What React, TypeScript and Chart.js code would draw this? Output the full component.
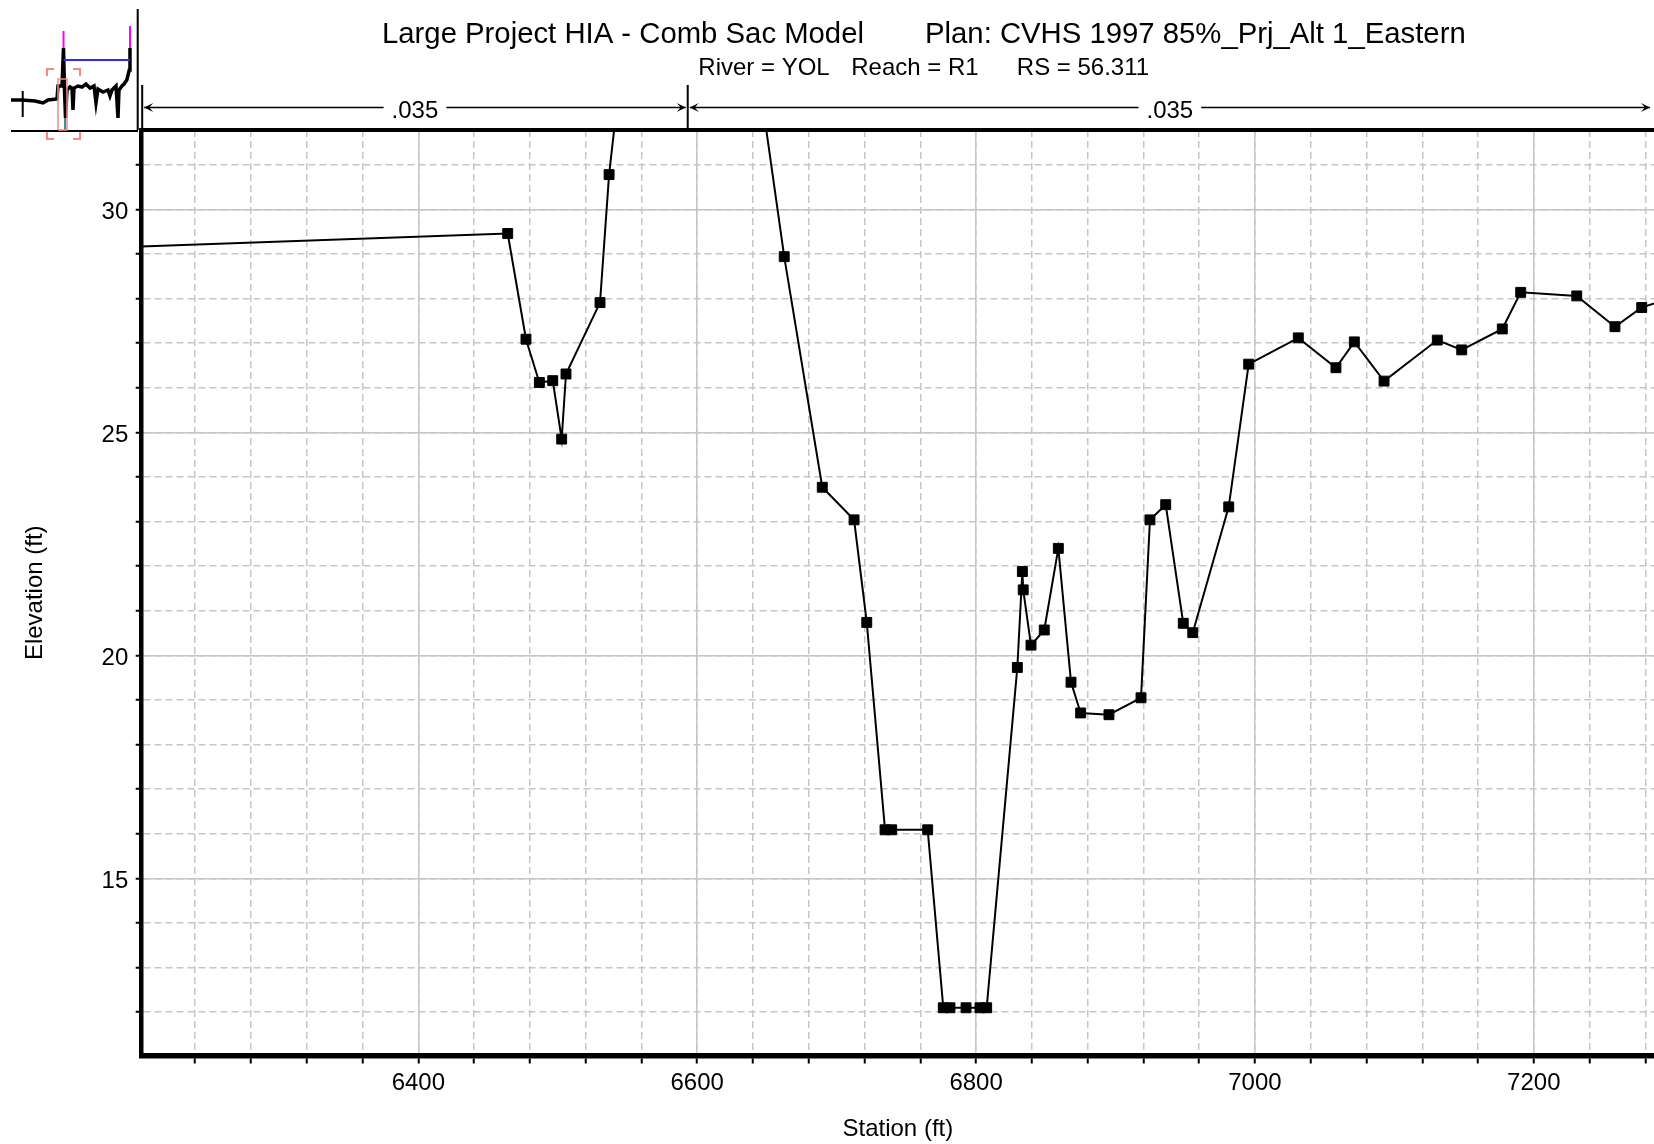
import React, { useEffect, useRef } from 'react';
import { Chart, registerables } from 'chart.js';

Chart.register(...registerables);

// ---------------- data ----------------
const STATION = [
  6150, 6464.1, 6477.2, 6486.8, 6496.4, 6502.8, 6505.9, 6530.3, 6536.8, 6552, 6635,
  6662.4, 6689.7, 6712.5, 6721.6, 6734.7, 6739.5, 6765.3, 6776.5, 6781.3, 6792.8,
  6802.8, 6807.6, 6829.6, 6833.2, 6833.8, 6839.4, 6848.9, 6859.0, 6868.1, 6875.0,
  6895.3, 6918.3, 6924.7, 6936.0, 6948.6, 6955.4, 6981.2, 6995.5, 7031.1, 7058.1,
  7071.3, 7092.6, 7130.8, 7148.3, 7177.4, 7190.6, 7230.8, 7258.2, 7277.4, 7310,
];
const ELEVATION = [
  29.11, 29.46, 27.09, 26.12, 26.16, 24.85, 26.31, 27.91, 30.78, 35.0, 35.0,
  28.94, 23.77, 23.04, 20.74, 16.09, 16.09, 16.09, 12.10, 12.10, 12.10,
  12.10, 12.10, 19.73, 21.88, 21.47, 20.23, 20.57, 22.40, 19.40, 18.71,
  18.67, 19.05, 23.04, 23.38, 20.72, 20.51, 23.33, 26.53, 27.12, 26.45,
  27.03, 26.15, 27.07, 26.85, 27.32, 28.14, 28.06, 27.37, 27.80, 28.13,
];
const BANK_STATIONS = [6593.2];
const MANNING_N = ['.035', '.035'];
const X_TICK_LABELS = [6400, 6600, 6800, 7000, 7200];
const Y_TICK_LABELS = [15, 20, 25, 30];
const X_MINOR_STEP = 40;
const Y_MINOR_STEP = 1;
const X_RANGE = [6201.6, 7286.2];
const Y_RANGE = [11.03, 31.78];

const TITLE_LEFT = 'Large Project HIA - Comb Sac Model';
const TITLE_RIGHT = 'Plan: CVHS 1997 85%_Prj_Alt 1_Eastern';
const SUBTITLE_PARTS = ['River = YOL', 'Reach = R1', 'RS = 56.311'];
const X_TITLE = 'Station (ft)';
const Y_TITLE = 'Elevation (ft)';

// overview (mini map) data
const MINI_STATION = [
  4860, 5224, 5652, 5916, 6081, 6378, 6411, 6543, 6593, 6626, 6659, 6708, 6807, 6873,
  6906, 6939, 7071, 7203, 7335, 7467, 7599, 7665, 7731, 7896, 8061, 8127, 8193, 8325,
  8391, 8424, 8523, 8589, 8682, 8764, 8787,
];
const MINI_ELEV = [
  22.52, 22.52, 22.06, 21.15, 22.52, 22.97, 28.91, 28.91, 46.28, 27.09, 14.29, 27.09,
  28.46, 28.0, 17.95, 28.0, 28.91, 28.46, 29.83, 28.0, 28.91, 21.15, 27.54, 26.17,
  27.09, 24.34, 27.09, 28.91, 14.29, 27.09, 28.91, 29.83, 31.66, 36.23, 46.28,
];
const MINI_LEVEE_STATIONS = [6593, 8787];
const MINI_LEVEE_BASE = [46.28, 46.28];
const MINI_LEVEE_TOP = [54.05, 56.33];
const MINI_WS = 40.8;
const MINI_END_MARK = { station: 5247, low: 14.75, high: 26.63 };
const MINI_TEAL = { station: 6642.5, low: 8.35, high: 28.46 };
const MINI_RECT = { x0: 6411.5, x1: 6708.5, y0: 8.81, y1: 32.11 };
const MINI_BRACKET = { x0: 6048.5, x1: 7137.5, y0: 4.69, y1: 36.68, dx: 231, dy: 3.2 };
const MINI_BASE = { x0: 4860, x1: 9051.5, y: 8.35 };
const MINI_X_RANGE = [4497.5, 9282.5];
const MINI_Y_RANGE = [3.78, 68.22];

// ---------------- layout / style ----------------
const FONT = '"Liberation Sans", Arial, Helvetica, sans-serif';
const W = 1654;
const H = 1144;
const GRID_COLOR = '#c6c6c6';

function stepTicks(min: number, max: number, step: number) {
  const out: number[] = [];
  for (let v = Math.ceil(min / step) * step; v <= max + 1e-9; v += step) out.push(Math.round(v * 1000) / 1000);
  return out;
}

const headerPlugin = {
  id: 'header',
  afterDraw(chart: any) {
    const ctx = chart.ctx as CanvasRenderingContext2D;
    const area = chart.chartArea;
    const xs = chart.scales.x;
    ctx.save();
    ctx.fillStyle = '#000';
    ctx.textBaseline = 'alphabetic';
    ctx.textAlign = 'left';
    ctx.font = `29.3px ${FONT}`;
    ctx.fillText(TITLE_LEFT, 382, 42.7);
    ctx.fillText(TITLE_RIGHT, 925, 42.7);
    ctx.font = `24px ${FONT}`;
    const subX = [698.3, 851.2, 1016.8];
    SUBTITLE_PARTS.forEach((t, i) => ctx.fillText(t, subX[i], 75));

    ctx.strokeStyle = '#000';
    // separator of overview panel
    ctx.lineWidth = 2;
    ctx.beginPath();
    ctx.moveTo(137.7, 9);
    ctx.lineTo(137.7, area.top);
    ctx.stroke();

    // Manning's n regions
    const bounds = [area.left + 0.5, ...BANK_STATIONS.map((s) => xs.getPixelForValue(s)), area.right - 2];
    const yL = 107.5;
    ctx.lineWidth = 2;
    for (let i = 0; i < bounds.length - 1; i++) {
      ctx.beginPath();
      ctx.moveTo(bounds[i], 85);
      ctx.lineTo(bounds[i], area.top);
      ctx.stroke();
    }
    ctx.font = `24px ${FONT}`;
    ctx.textAlign = 'center';
    const arrow = (tx: number, dir: number) => {
      ctx.beginPath();
      ctx.moveTo(tx, yL);
      ctx.lineTo(tx - dir * 9, yL - 4.5);
      ctx.lineTo(tx - dir * 5, yL);
      ctx.lineTo(tx - dir * 9, yL + 4.5);
      ctx.closePath();
      ctx.fill();
    };
    for (let i = 0; i < bounds.length - 1; i++) {
      const a = bounds[i] + 2;
      const b = bounds[i + 1] - 2;
      const mid = (bounds[i] + bounds[i + 1]) / 2;
      const label = MANNING_N[i];
      const gap = ctx.measureText(label).width / 2 + 8;
      ctx.lineWidth = 1.6;
      ctx.beginPath();
      ctx.moveTo(a, yL);
      ctx.lineTo(mid - gap, yL);
      ctx.moveTo(mid + gap, yL);
      ctx.lineTo(b, yL);
      ctx.stroke();
      arrow(a, -1);
      arrow(b, 1);
      ctx.fillText(label, mid, 118.3);
    }
    ctx.restore();
  },
};

export default function App() {
  const mainRef = useRef<HTMLCanvasElement>(null);
  const miniRef = useRef<HTMLCanvasElement>(null);

  useEffect(() => {
    const points = STATION.map((s, i) => ({ x: s, y: ELEVATION[i] }));
    const xMinor = stepTicks(X_RANGE[0], X_RANGE[1], X_MINOR_STEP);
    const yMinor = stepTicks(Y_RANGE[0], Y_RANGE[1], Y_MINOR_STEP);
    const tickFont = { family: FONT, size: 24 };
    const noPad = (s: any) => {
      s.paddingLeft = 0;
      s.paddingRight = 0;
      s.paddingTop = 0;
      s.paddingBottom = 0;
    };

    const main = new Chart(mainRef.current as HTMLCanvasElement, {
      type: 'scatter',
      data: {
        datasets: [
          {
            data: points,
            showLine: true,
            borderColor: '#000',
            borderWidth: 2,
            tension: 0,
            pointStyle: 'rect',
            pointRadius: 7,
            pointHoverRadius: 7,
            pointBackgroundColor: '#000',
            pointBorderColor: '#000',
            pointBorderWidth: 1,
          } as any,
        ],
      },
      options: {
        responsive: false,
        animation: false,
        devicePixelRatio: 1,
        events: [],
        layout: { autoPadding: false, padding: { top: 130, left: 0, right: 0, bottom: 0 } },
        plugins: { legend: { display: false }, tooltip: { enabled: false }, title: { display: false } },
        scales: {
          x: {
            type: 'linear',
            position: 'bottom',
            min: X_RANGE[0],
            max: X_RANGE[1],
            afterBuildTicks: (s: any) => {
              s.ticks = xMinor.map((v) => ({ value: v }));
            },
            afterFit: (s: any) => {
              s.height = 88.5;
              noPad(s);
            },
            ticks: {
              autoSkip: false,
              maxRotation: 0,
              padding: 5.4,
              color: '#000',
              font: tickFont,
              callback: (v: any) => (X_TICK_LABELS.includes(Number(v)) ? String(v) : ''),
            },
            grid: { color: GRID_COLOR, lineWidth: 1.5, tickColor: '#000', tickLength: 8, tickWidth: 2 },
            border: { display: true, color: '#000', width: 5.5, dash: [7, 4] },
            title: { display: true, text: X_TITLE, color: '#000', font: tickFont, padding: { top: 0, bottom: 0 } },
          },
          xTop: {
            type: 'linear',
            axis: 'x',
            position: 'top',
            min: X_RANGE[0],
            max: X_RANGE[1],
            afterBuildTicks: (s: any) => {
              s.ticks = X_TICK_LABELS.map((v) => ({ value: v }));
            },
            afterFit: (s: any) => {
              s.height = 0;
              noPad(s);
            },
            ticks: { display: false },
            grid: { color: GRID_COLOR, lineWidth: 1.5, drawTicks: false },
            border: { display: true, color: '#000', width: 4 },
          },
          y: {
            type: 'linear',
            position: 'left',
            min: Y_RANGE[0],
            max: Y_RANGE[1],
            afterBuildTicks: (s: any) => {
              s.ticks = yMinor.map((v) => ({ value: v }));
            },
            afterFit: (s: any) => {
              s.width = 141.7;
              noPad(s);
            },
            ticks: {
              autoSkip: false,
              padding: 7.4,
              labelOffset: 3,
              color: '#000',
              font: tickFont,
              callback: (v: any) => (Y_TICK_LABELS.includes(Number(v)) ? String(v) : ''),
            },
            grid: { color: GRID_COLOR, lineWidth: 1.5, tickColor: '#000', tickLength: 6, tickWidth: 2 },
            border: { display: true, color: '#000', width: 4.5, dash: [7, 4] },
            title: { display: true, text: Y_TITLE, color: '#000', font: tickFont, padding: { top: 21, bottom: 0 } },
          },
          yRight: {
            type: 'linear',
            axis: 'y',
            position: 'right',
            min: Y_RANGE[0],
            max: Y_RANGE[1],
            afterBuildTicks: (s: any) => {
              s.ticks = Y_TICK_LABELS.map((v) => ({ value: v }));
            },
            afterFit: (s: any) => {
              s.width = 0;
              noPad(s);
            },
            ticks: { display: false },
            grid: { color: GRID_COLOR, lineWidth: 1.5, drawTicks: false },
            border: { display: false },
          },
        } as any,
      },
      plugins: [headerPlugin],
    });

    const seg = (pts: { x: number; y: number }[], color: string, width: number) => ({
      data: pts,
      showLine: true,
      borderColor: color,
      borderWidth: width,
      pointRadius: 0,
      pointHoverRadius: 0,
      tension: 0,
    });
    const B = MINI_BRACKET;
    const pink = '#f28b82';
    const miniDatasets: any[] = [
      seg([{ x: MINI_RECT.x0, y: MINI_RECT.y0 }, { x: MINI_RECT.x0, y: MINI_RECT.y1 }, { x: MINI_RECT.x1, y: MINI_RECT.y1 }, { x: MINI_RECT.x1, y: MINI_RECT.y0 }, { x: MINI_RECT.x0, y: MINI_RECT.y0 }], pink, 1.5),
      seg([{ x: B.x0, y: B.y1 - B.dy }, { x: B.x0, y: B.y1 }, { x: B.x0 + B.dx, y: B.y1 }], pink, 2),
      seg([{ x: B.x1 - B.dx, y: B.y1 }, { x: B.x1, y: B.y1 }, { x: B.x1, y: B.y1 - B.dy }], pink, 2),
      seg([{ x: B.x0, y: B.y0 + B.dy }, { x: B.x0, y: B.y0 }, { x: B.x0 + B.dx, y: B.y0 }], pink, 2),
      seg([{ x: B.x1 - B.dx, y: B.y0 }, { x: B.x1, y: B.y0 }, { x: B.x1, y: B.y0 + B.dy }], pink, 2),
      seg([{ x: MINI_BASE.x0, y: MINI_BASE.y }, { x: MINI_BASE.x1, y: MINI_BASE.y }], '#000', 2),
      seg([{ x: MINI_LEVEE_STATIONS[0], y: MINI_WS }, { x: MINI_LEVEE_STATIONS[1], y: MINI_WS }], '#2b2bff', 2),
      ...MINI_LEVEE_STATIONS.map((s, i) =>
        seg([{ x: s, y: MINI_LEVEE_BASE[i] }, { x: s, y: MINI_LEVEE_TOP[i] }], '#ff00ff', 2)
      ),
      seg([{ x: MINI_END_MARK.station, y: MINI_END_MARK.low }, { x: MINI_END_MARK.station, y: MINI_END_MARK.high }], '#000', 2),
      seg(MINI_STATION.map((s, i) => ({ x: s, y: MINI_ELEV[i] })), '#000', 3.5),
      seg([{ x: MINI_TEAL.station, y: MINI_TEAL.low }, { x: MINI_TEAL.station, y: MINI_TEAL.high }], '#2a9a9a', 2),
    ];

    const mini = new Chart(miniRef.current as HTMLCanvasElement, {
      type: 'scatter',
      data: { datasets: miniDatasets },
      options: {
        responsive: false,
        animation: false,
        devicePixelRatio: 1,
        events: [],
        layout: { autoPadding: false, padding: 0 },
        plugins: { legend: { display: false }, tooltip: { enabled: false } },
        scales: {
          x: { type: 'linear', display: false, min: MINI_X_RANGE[0], max: MINI_X_RANGE[1] },
          y: { type: 'linear', display: false, min: MINI_Y_RANGE[0], max: MINI_Y_RANGE[1] },
        },
      },
    } as any);

    return () => {
      main.destroy();
      mini.destroy();
    };
  }, []);

  return (
    <div style={{ position: 'absolute', left: 0, top: 0, width: W, height: H, background: '#fff', overflow: 'hidden' }}>
      <canvas ref={mainRef} width={W} height={H} style={{ position: 'absolute', left: 0, top: 0, width: W, height: H }} />
      <canvas ref={miniRef} width={145} height={141} style={{ position: 'absolute', left: 0, top: 0, width: 145, height: 141 }} />
    </div>
  );
}
